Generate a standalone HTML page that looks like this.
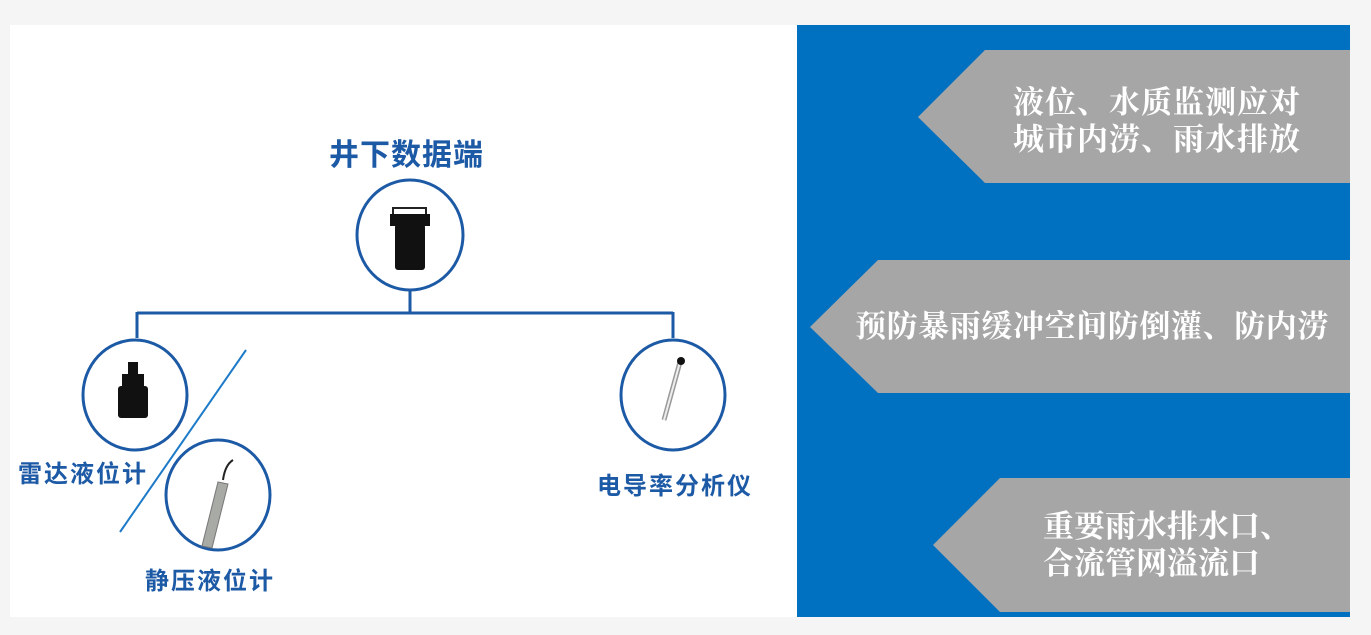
<!DOCTYPE html>
<html><head><meta charset="utf-8"><style>
html,body{margin:0;padding:0;background:#f5f5f5;}
body{width:1371px;height:635px;position:relative;overflow:hidden;}
.t{position:absolute;font-family:"Liberation Sans","Noto Sans CJK SC",sans-serif;font-weight:bold;color:#1d5aa6;white-space:nowrap;}
.w{position:absolute;font-family:"Liberation Serif","Noto Serif CJK SC",serif;font-weight:bold;color:#fff;font-size:31px;line-height:37px;white-space:nowrap;}
</style></head><body>
<div style="position:absolute;left:10px;top:25px;width:787px;height:592px;background:#fff"></div>
<div style="position:absolute;left:797px;top:25px;width:553px;height:592px;background:#0070c0"></div>
<svg width="1371" height="635" style="position:absolute;left:0;top:0">
<polygon points="918,117 985,50 1350,50 1350,183 985,183" fill="#a6a6a6"/>
<polygon points="810,327 878,260 1350,260 1350,393 878,393" fill="#a6a6a6"/>
<polygon points="933,545 1000,478 1350,478 1350,612 1000,612" fill="#a6a6a6"/>
<g stroke="#1d5aa6" stroke-width="3" fill="none">
<path d="M410,290 V313 M137,313 H673 M137,312 V338 M673,312 V338"/>
<ellipse cx="410" cy="235" rx="53" ry="55" fill="#fff"/>
<ellipse cx="135" cy="395" rx="52" ry="55" fill="#fff"/>
<ellipse cx="673" cy="395" rx="52" ry="55" fill="#fff"/>
<ellipse cx="218" cy="495" rx="52" ry="55" fill="#fff"/>
</g>
<line x1="246" y1="350" x2="120" y2="532" stroke="#1d7ac8" stroke-width="2"/>
<rect x="393" y="208" width="33" height="8" fill="none" stroke="#222" stroke-width="2"/>
<rect x="390" y="214" width="40" height="12" fill="#111"/>
<rect x="395" y="224" width="30" height="46" rx="3" fill="#111"/>
<rect x="128" y="362" width="10" height="12" fill="#111"/>
<rect x="122" y="374" width="22" height="12" fill="#111"/>
<rect x="118" y="386" width="30" height="32" rx="3" fill="#111"/>
<line x1="680" y1="362" x2="664" y2="420" stroke="#999" stroke-width="5"/>
<line x1="680" y1="362" x2="664" y2="420" stroke="#eee" stroke-width="2"/>
<circle cx="681" cy="361" r="4" fill="#111"/>
<path d="M233,460 q-8,5 -10,20" stroke="#222" stroke-width="2" fill="none"/>
<polygon points="218,482 228,484 212,548 202,546" fill="#a8aaa6" stroke="#777"/>
</svg>
<div class="t" style="left:329px;top:130px;font-size:30px;letter-spacing:1px">井下数据端</div>
<div class="t" style="left:18px;top:454px;font-size:24px;letter-spacing:2px">雷达液位计</div>
<div class="t" style="left:145px;top:561px;font-size:24px;letter-spacing:2px">静压液位计</div>
<div class="t" style="left:597px;top:466px;font-size:24px;letter-spacing:2px">电导率分析仪</div>
<div class="w" style="left:1013px;top:84px;letter-spacing:1px">液位、水质监测应对<br>城市内涝、雨水排放</div>
<div class="w" style="left:855px;top:308px;letter-spacing:0.6px">预防暴雨缓冲空间防倒灌、防内涝</div>
<div class="w" style="left:1043px;top:508px">重要雨水排水口、<br>合流管网溢流口</div>
</body></html>
